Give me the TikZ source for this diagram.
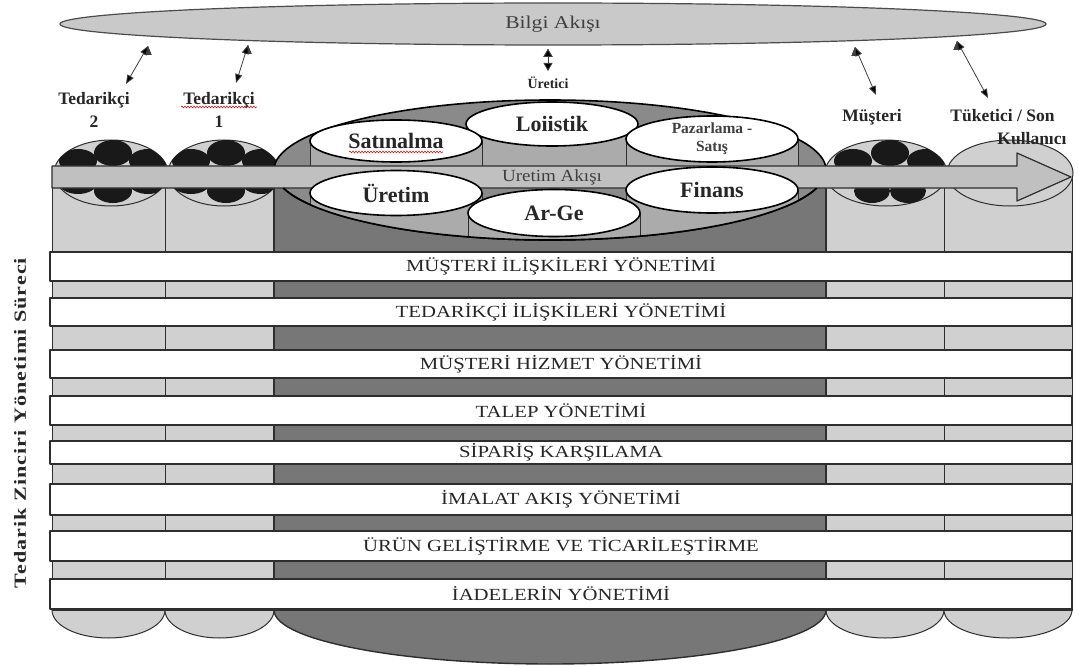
\documentclass[tikz,border=0pt]{standalone}
\usepackage{fontspec}
\setmainfont{Liberation Serif}
\usepackage{tikz}
\usetikzlibrary{shapes.geometric,arrows.meta,decorations.pathmorphing}

\definecolor{lightcol}{HTML}{D0D0D0}
\definecolor{darkcol}{HTML}{777777}
\definecolor{capcol}{HTML}{8A8A8A}
\definecolor{sidecol}{HTML}{ABABAB}
\definecolor{bandcol}{HTML}{C0C0C0}
\definecolor{infocol}{HTML}{C9C9C9}
\definecolor{edgecol}{HTML}{2E2E2E}

\begin{document}
\begin{tikzpicture}[x=1pt,y=-1pt,>={Triangle[length=9pt,width=7pt]},line join=round,
  colbody/.style={fill=lightcol,draw=edgecol,line width=1pt},
  deptside/.style={fill=sidecol,draw=edgecol,line width=0.8pt},
  dept/.style={ellipse,draw=black,line width=1.6pt,fill=white,inner sep=0pt,minimum width=172pt,align=center,
    font=\fontsize{22}{24}\selectfont\bfseries,text=black!85},
  rowbox/.style={rectangle,draw=edgecol,line width=1.2pt,fill=white,minimum width=1022pt,inner sep=0pt,
    font=\fontsize{17}{19}\selectfont\addfontfeature{FakeStretch=1.22},text=black!85},
  actor/.style={align=center,font=\fontsize{17.5}{23}\selectfont\bfseries,text=black!85},
  infolink/.style={<->,line width=0.8pt,draw=black!75},
  spellmark/.style={draw=red!80!black,line width=0.5pt,decorate,decoration={snake,amplitude=1pt,segment length=3pt}}]
\path[use as bounding box,fill=white] (0,0) rectangle (1079,666);

% information flow
\node[ellipse,draw=black!70,line width=1.2pt,fill=infocol,minimum width=986pt,minimum height=42pt,inner sep=0pt,
  font=\fontsize{18}{20}\selectfont\addfontfeature{FakeStretch=1.2},text=black!75] (bilgi) at (553,24) {Bilgi Akışı};

% column bodies
\filldraw[colbody] (108.5,610) ellipse [x radius=56.5,y radius=28];
\filldraw[colbody] (219.5,610) ellipse [x radius=54.5,y radius=28];
\filldraw[colbody] (885,610) ellipse [x radius=59,y radius=28];
\filldraw[colbody] (1008,610) ellipse [x radius=64,y radius=28];
\filldraw[colbody] (52,173) rectangle (165,610);
\filldraw[colbody] (165,173) rectangle (274,610);
\filldraw[colbody] (826,173) rectangle (944,610);
\filldraw[colbody] (944,173) rectangle (1072,610);
\filldraw[fill=darkcol,draw=edgecol,line width=1.4pt] (550,610) ellipse [x radius=276,y radius=54];
\filldraw[fill=darkcol,draw=edgecol,line width=1.2pt] (274,170) rectangle (826,610);

% supplier and customer tops
\filldraw[colbody] (111,173) ellipse [x radius=57,y radius=33];
\filldraw[colbody] (224,173) ellipse [x radius=56,y radius=33];
\filldraw[colbody] (886,173) ellipse [x radius=61,y radius=33];
\filldraw[colbody] (1010,173) ellipse [x radius=63,y radius=33];
\begin{scope}
\clip (111,173) ellipse [x radius=57,y radius=33];
\fill[black!90] (78,161) ellipse [x radius=19,y radius=12];
\fill[black!90] (113,153) ellipse [x radius=19,y radius=13];
\fill[black!90] (148,161) ellipse [x radius=19,y radius=12];
\fill[black!90] (78,183) ellipse [x radius=19,y radius=11];
\fill[black!90] (113,191) ellipse [x radius=19,y radius=12];
\fill[black!90] (148,183) ellipse [x radius=19,y radius=11];
\end{scope}
\begin{scope}
\clip (224,173) ellipse [x radius=56,y radius=33];
\fill[black!90] (191,161) ellipse [x radius=19,y radius=12];
\fill[black!90] (226,153) ellipse [x radius=19,y radius=13];
\fill[black!90] (261,161) ellipse [x radius=19,y radius=12];
\fill[black!90] (191,183) ellipse [x radius=19,y radius=11];
\fill[black!90] (226,191) ellipse [x radius=19,y radius=12];
\fill[black!90] (261,183) ellipse [x radius=19,y radius=11];
\end{scope}
\begin{scope}
\clip (886,173) ellipse [x radius=61,y radius=33];
\fill[black!90] (853,161) ellipse [x radius=19,y radius=12];
\fill[black!90] (890,153) ellipse [x radius=19,y radius=13];
\fill[black!90] (926,161) ellipse [x radius=19,y radius=12];
\fill[black!90] (872,191) ellipse [x radius=18,y radius=12];
\fill[black!90] (908,191) ellipse [x radius=18,y radius=12];
\end{scope}

% producer top
\filldraw[fill=capcol,draw=black,line width=1.6pt] (550,170) ellipse [x radius=276,y radius=70];
\begin{scope}
\clip (550,170) ellipse [x radius=276,y radius=70];
\filldraw[deptside] (467,124) rectangle (637,167);
\end{scope}
\node[dept,minimum height=44pt] (logi) at (552,124) {Loiistik};
\begin{scope}
\clip (550,170) ellipse [x radius=276,y radius=70];
\filldraw[deptside] (310,141) rectangle (482,167);
\filldraw[deptside] (626,138) rectangle (798,167);
\end{scope}
\node[dept,minimum height=42pt] (sat) at (396,141) {Satınalma};
\node[dept,minimum height=46pt,font=\fontsize{15.5}{18}\selectfont\bfseries,text=black!75] (paz) at (712,139) {Pazarlama -\\Satış};

% product flow
\filldraw[fill=bandcol,draw=edgecol,line width=1.2pt] (52,166) -- (1017,166) -- (1017,153) -- (1071,177)
  -- (1017,201) -- (1017,188) -- (52,188) -- cycle;
\node[font=\fontsize{17}{19}\selectfont\addfontfeature{FakeStretch=1.12},text=black!75] (flow) at (552,177) {Uretim Akışı};

\begin{scope}
\clip (550,170) ellipse [x radius=276,y radius=70];
\filldraw[deptside] (310,193) rectangle (482,250);
\filldraw[deptside] (626,190) rectangle (798,250);
\filldraw[deptside] (468,213) rectangle (640,250);
\end{scope}
\draw[black,line width=1.6pt] (283.4,188.1) arc [start angle=165,end angle=15,x radius=276,y radius=70];
\node[dept,minimum height=45pt] (ure) at (396,193) {Üretim};
\node[dept,minimum height=46pt] (fin) at (712,190) {Finans};
\node[dept,minimum height=47pt] (arge) at (554,213) {Ar-Ge};
\draw[spellmark] ([xshift=-47pt,yshift=-11pt]sat.center) -- ([xshift=47pt,yshift=-11pt]sat.center);

% processes
\node[rowbox,minimum height=29pt] (crm) at (561,266.5) {MÜŞTERİ İLİŞKİLERİ YÖNETİMİ};
\node[rowbox,minimum height=28pt] (srm) at (561,312)   {TEDARİKÇİ İLİŞKİLERİ YÖNETİMİ};
\node[rowbox,minimum height=28pt] (csm) at (561,364)   {MÜŞTERİ HİZMET YÖNETİMİ};
\node[rowbox,minimum height=29pt] (dem) at (561,410.5) {TALEP YÖNETİMİ};
\node[rowbox,minimum height=23pt] (ord) at (561,452.5) {SİPARİŞ KARŞILAMA};
\node[rowbox,minimum height=31pt] (mfg) at (561,499.5) {İMALAT AKIŞ YÖNETİMİ};
\node[rowbox,minimum height=30pt] (pdc) at (561,546)   {ÜRÜN GELİŞTİRME VE TİCARİLEŞTİRME};
\node[rowbox,minimum height=30pt] (ret) at (561,594)   {İADELERİN YÖNETİMİ};

\node[rotate=90,text=black!85,font=\fontsize{17}{19}\selectfont\bfseries\addfontfeature{FakeStretch=1.3,LetterSpace=6}] (scm) at (20,423) {Tedarik Zinciri Yönetimi Süreci};

% actors
\node[actor] (sup2) at (94,110)  {Tedarikçi\\2};
\node[actor] (sup1) at (219,110) {Tedarikçi\\1};
\node[actor,font=\fontsize{14}{16}\selectfont\bfseries] (maker) at (548,83) {Üretici};
\node[actor] (cust) at (872,117) {Müşteri};
\node[actor,align=right,anchor=north east] (endu) at (1070,106) {Tüketici / Son\hspace*{12pt}\\Kullanıcı};
\draw[spellmark] ([xshift=-38pt,yshift=3pt]sup1.center) -- ([xshift=38pt,yshift=3pt]sup1.center);

\coordinate (s2a) at (148,46);
\coordinate (s2b) at (126,84);
\coordinate (s1a) at (248,45);
\coordinate (s1b) at (236,83);
\coordinate (mka) at (548,49);
\coordinate (mkb) at (548,71);
\coordinate (cua) at (855,47);
\coordinate (cub) at (876,95);
\coordinate (eua) at (957,41);
\coordinate (eub) at (988,98);
\path[infolink] (s2a) edge (s2b);
\path[infolink] (s1a) edge (s1b);
\path[infolink,>={Triangle[length=8pt,width=9pt]}] (mka) edge (mkb);
\path[infolink] (cua) edge (cub);
\path[infolink] (eua) edge (eub);
\end{tikzpicture}
\end{document}
